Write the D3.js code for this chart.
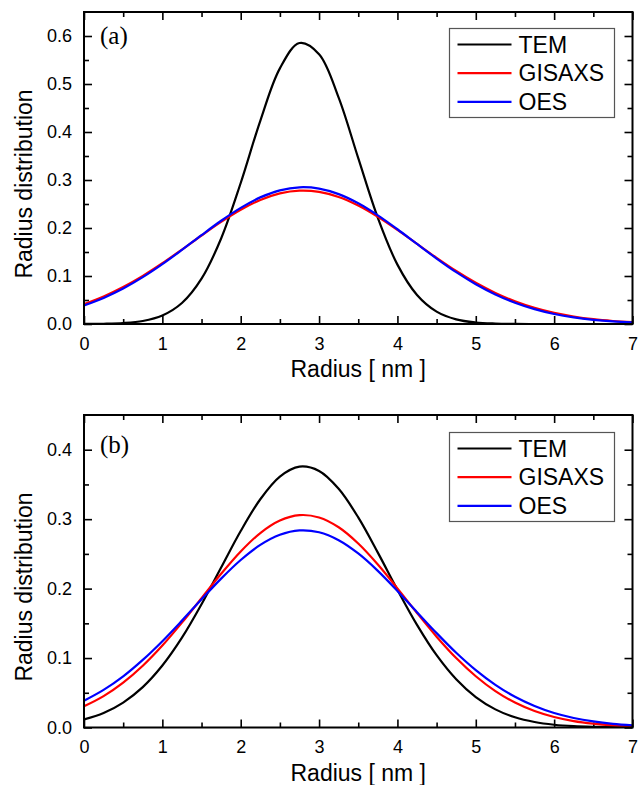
<!DOCTYPE html>
<html>
<head>
<meta charset="utf-8">
<script src="https://cdn.jsdelivr.net/npm/d3@7"></script>
<style>
    body { margin: 0; background: #ffffff; }
    svg text { font-family: "Liberation Sans", Arial, sans-serif; fill: #000; }
    .tick text { font-size: 18px; }
    .tick line { stroke: #000; stroke-width: 1.6px; }
    .ax-title { font-size: 23px; }
    .leg-label { font-size: 23px; }
    .panel-tag { font-family: "Liberation Serif", "Times New Roman", serif !important; font-size: 25px; }
</style>
</head>
<body>
<svg id="chart" width="639" height="785"></svg>
<script>
// radius grid (nm)
const radius = [0, 0.25, 0.5, 0.75, 1, 1.25, 1.5, 1.75, 2, 2.25, 2.5, 2.75, 3, 3.25, 3.5,
    3.75, 4, 4.25, 4.5, 4.75, 5, 5.25, 5.5, 5.75, 6, 6.25, 6.5, 6.75, 7];

// panel (a)
const temA = [0.0001, 0.0005, 0.0019, 0.0062, 0.0177, 0.0437, 0.0944, 0.1782, 0.2938, 0.4233,
    0.5326, 0.5854, 0.5622, 0.4716, 0.3455, 0.2212, 0.1237, 0.0605, 0.0258, 0.0096,
    0.0031, 0.0009, 0.0002, 0, 0, 0, 0, 0, 0];
const gisaxsA = [0.0414, 0.0573, 0.0770, 0.1002, 0.1266, 0.1551, 0.1844, 0.2127, 0.2380, 0.2583,
    0.2720, 0.2778, 0.2753, 0.2647, 0.2468, 0.2233, 0.1960, 0.1669, 0.1378, 0.1104,
    0.0858, 0.0647, 0.0473, 0.0336, 0.0231, 0.0155, 0.0100, 0.0063, 0.0038];
const oesA = [0.0386, 0.0543, 0.0739, 0.0976, 0.1247, 0.1544, 0.1852, 0.2151, 0.2420, 0.2638,
    0.2785, 0.2848, 0.2821, 0.2706, 0.2515, 0.2264, 0.1974, 0.1667, 0.1364, 0.1080,
    0.0829, 0.0616, 0.0444, 0.0310, 0.0209, 0.0137, 0.0087, 0.0053, 0.0032];

// panel (b)
const temB = [0.0116, 0.0209, 0.0359, 0.0581, 0.0892, 0.1293, 0.1775, 0.2304, 0.2830, 0.3287,
    0.3613, 0.3756, 0.3694, 0.3437, 0.3025, 0.2518, 0.1983, 0.1478, 0.1041, 0.0695,
    0.0438, 0.0261, 0.0147, 0.0079, 0.0040, 0.0019, 0.0009, 0.0004, 0.0001];
const gisaxsB = [0.0305, 0.0452, 0.0646, 0.0889, 0.1180, 0.1510, 0.1862, 0.2213, 0.2535, 0.2800,
    0.2980, 0.3058, 0.3024, 0.2883, 0.2649, 0.2347, 0.2004, 0.1649, 0.1308, 0.1000,
    0.0738, 0.0524, 0.0359, 0.0237, 0.0151, 0.0092, 0.0055, 0.0031, 0.0017];
const oesB = [0.0385, 0.0541, 0.0736, 0.0973, 0.1243, 0.1539, 0.1846, 0.2144, 0.2412, 0.2629,
    0.2775, 0.2838, 0.2811, 0.2697, 0.2506, 0.2256, 0.1967, 0.1661, 0.1359, 0.1076,
    0.0826, 0.0614, 0.0442, 0.0309, 0.0208, 0.0137, 0.0087, 0.0053, 0.0032];

const seriesNames = ["TEM", "GISAXS", "OES"];
const seriesColors = ["#000000", "#ff0000", "#0000ff"];

const xTicks = [0, 1, 2, 3, 4, 5, 6, 7];
const yTicksA = [0.0, 0.1, 0.2, 0.3, 0.4, 0.5, 0.6];
const yTicksB = [0.0, 0.1, 0.2, 0.3, 0.4];

const panels = [
    { tag: "(a)", data: [temA, gisaxsA, oesA], yMax: 0.65, yTicks: yTicksA,
      top: 12, bottom: 324, tagY: 44, legTop: 28, titleY: 184 },
    { tag: "(b)", data: [temB, gisaxsB, oesB], yMax: 0.45, yTicks: yTicksB,
      top: 415, bottom: 727.5, tagY: 453, legTop: 432, titleY: 587 }
];

const svg = d3.select("#chart");
const left = 84, right = 632.5;

const x = d3.scaleLinear().domain([0, 7]).range([left, right]);
const xMinor = d3.range(0.5, 7, 1);

panels.forEach((p, i) => {
    const y = d3.scaleLinear().domain([0, p.yMax]).range([p.bottom, p.top]);
    const yMinor = p.yTicks.map(v => v + 0.05).filter(v => v < p.yMax);

    const g = svg.append("g").attr("class", "panel-" + i);

    g.append("clipPath").attr("id", `clip-${i}`)
      .append("rect")
        .attr("x", left).attr("y", p.top)
        .attr("width", right - left).attr("height", p.bottom - p.top);

    //axes: ticks point inward on all four sides
    const fmtY = d3.format(".1f");
    g.append("g").attr("transform", `translate(0,${p.bottom})`)
        .call(d3.axisBottom(x).tickValues(xTicks).tickSize(-8).tickPadding(13).tickFormat(d3.format("d")));
    g.append("g").attr("transform", `translate(0,${p.bottom})`)
        .call(d3.axisBottom(x).tickValues(xMinor).tickSize(-5).tickFormat(""));
    g.append("g").attr("transform", `translate(0,${p.top})`)
        .call(d3.axisTop(x).tickValues(xTicks).tickSize(-8).tickFormat(""));
    g.append("g").attr("transform", `translate(0,${p.top})`)
        .call(d3.axisTop(x).tickValues(xMinor).tickSize(-5).tickFormat(""));

    g.append("g").attr("transform", `translate(${left},0)`)
        .call(d3.axisLeft(y).tickValues(p.yTicks).tickSize(-8).tickPadding(12).tickFormat(fmtY));
    g.append("g").attr("transform", `translate(${left},0)`)
        .call(d3.axisLeft(y).tickValues(yMinor).tickSize(-5).tickFormat(""));
    g.append("g").attr("transform", `translate(${right},0)`)
        .call(d3.axisRight(y).tickValues(p.yTicks).tickSize(-8).tickFormat(""));
    g.append("g").attr("transform", `translate(${right},0)`)
        .call(d3.axisRight(y).tickValues(yMinor).tickSize(-5).tickFormat(""));

    g.selectAll(".domain").remove();

    //curves
    const line = d3.line()
        .x((d, k) => x(radius[k]))
        .y(d => y(d))
        .curve(d3.curveCatmullRom.alpha(0.5));

    g.append("g").attr("clip-path", `url(#clip-${i})`)
      .selectAll("path")
        .data(p.data)
      .join("path")
        .attr("d", line)
        .attr("fill", "none")
        .attr("stroke", (d, k) => seriesColors[k])
        .attr("stroke-width", 2.2)
        .attr("stroke-linejoin", "round");

    //frame
    g.append("rect")
        .attr("x", left).attr("y", p.top)
        .attr("width", right - left).attr("height", p.bottom - p.top)
        .attr("fill", "none").attr("stroke", "#000").attr("stroke-width", 2);

    //titles
    g.append("text")
        .attr("class", "ax-title")
        .attr("x", (left + right) / 2)
        .attr("y", p.bottom + 53)
        .attr("text-anchor", "middle")
        .text("Radius [ nm ]");

    g.append("text")
        .attr("class", "ax-title")
        .attr("transform", `translate(32,${p.titleY}) rotate(-90)`)
        .attr("text-anchor", "middle")
        .text("Radius distribution");

    g.append("text")
        .attr("class", "panel-tag")
        .attr("x", 100)
        .attr("y", p.tagY)
        .text(p.tag);

    //legend
    const leg = g.append("g").attr("transform", `translate(449.5,${p.legTop + 0.5})`);
    leg.append("rect")
        .attr("width", 165).attr("height", 89)
        .attr("fill", "#fff").attr("stroke", "#555").attr("stroke-width", 1.2);

    const rows = leg.selectAll(".leg-row")
        .data(seriesNames)
      .join("g")
        .attr("class", "leg-row")
        .attr("transform", (d, k) => `translate(0,${16 + k * 28.7})`);

    rows.append("line")
        .attr("x1", 8).attr("x2", 62)
        .attr("stroke", (d, k) => seriesColors[k])
        .attr("stroke-width", 2.2);

    rows.append("text")
        .attr("class", "leg-label")
        .attr("x", 69)
        .attr("y", 8)
        .text(d => d);
});
</script>
</body>
</html>
